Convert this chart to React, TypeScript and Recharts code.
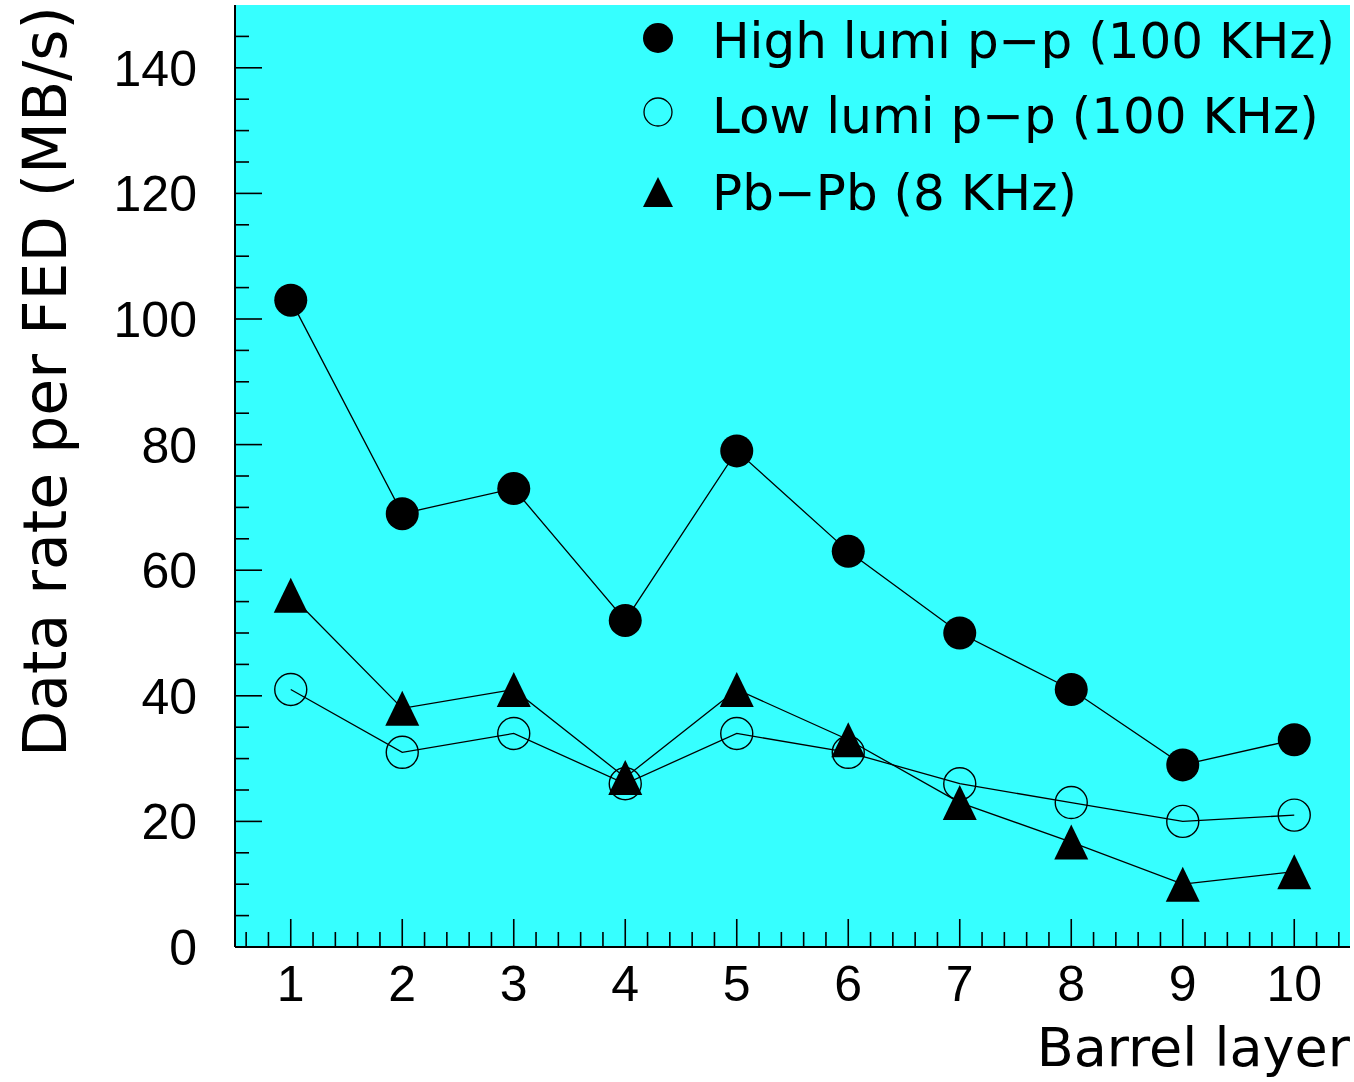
import { CartesianGrid, ComposedChart, Legend, Line, XAxis, YAxis } from "recharts";

const layers = [1, 2, 3, 4, 5, 6, 7, 8, 9, 10];
const highLumi = [103, 69, 73, 52, 79, 63, 50, 41, 29, 33];
const lowLumi = [41, 31, 34, 26, 34, 31, 26, 23, 20, 21];
const pbPb = [56, 38, 41, 27, 41, 33, 23, 16.7, 10, 12];
const seriesNames = [
  "High lumi p\u2212p (100 KHz)",
  "Low lumi p\u2212p (100 KHz)",
  "Pb\u2212Pb (8 KHz)",
];

const data = layers.map((layer, i) => ({
  layer,
  high: highLumi[i],
  low: lowLumi[i],
  pb: pbPb[i],
}));

// minor ticks every 0.2 on x, every 5 on y
const xTicks = Array.from({ length: 50 }, (_, i) => Math.round((0.6 + i * 0.2) * 10) / 10);
const yTicks = Array.from({ length: 30 }, (_, i) => i * 5);

const TEXT = "'DejaVu Sans', sans-serif";
const DIGITS = "'Liberation Sans', Arial, sans-serif";

const XTick = (props: any) => {
  const { x, y, payload } = props;
  const v = payload.value;
  const major = Math.abs(v - Math.round(v)) < 1e-6;
  return (
    <g>
      <line x1={x} x2={x} y1={y} y2={y - (major ? 28 : 15)} stroke="#000" strokeWidth={1.6} />
      {major && (
        <text x={x} y={y + 54} textAnchor="middle" fontSize={50} fontFamily={DIGITS} fill="#000">
          {Math.round(v)}
        </text>
      )}
    </g>
  );
};

const YTick = (props: any) => {
  const { x, y, payload } = props;
  const v = payload.value;
  const major = v % 20 === 0;
  return (
    <g>
      <line x1={x} x2={x + (major ? 27 : 14)} y1={y} y2={y} stroke="#000" strokeWidth={1.6} />
      {major && (
        <text x={x - 38} y={y + 18} textAnchor="end" fontSize={50} fontFamily={DIGITS} fill="#000">
          {v}
        </text>
      )}
    </g>
  );
};

const FilledDot = (p: any) => <circle cx={p.cx} cy={p.cy} r={16.5} fill="#000" />;
const OpenDot = (p: any) => (
  <circle cx={p.cx} cy={p.cy} r={16} fill="none" stroke="#000" strokeWidth={1.4} />
);
const TriDot = (p: any) => (
  <polygon
    points={`${p.cx},${p.cy - 17.5} ${p.cx + 17},${p.cy + 17.5} ${p.cx - 17},${p.cy + 17.5}`}
    fill="#000"
  />
);

const LegendBox = () => (
  <svg width={734} height={230} style={{ display: "block" }}>
    <circle cx={38} cy={38} r={15} fill="#000" />
    <circle cx={38} cy={112} r={14} fill="none" stroke="#000" strokeWidth={1.3} />
    <polygon points="38,177 53,207 23,207" fill="#000" />
    {seriesNames.map((name, i) => (
      <text key={name} x={92} y={[58, 133, 210][i]} fontSize={50} fontFamily={TEXT} fill="#000">
        {name}
      </text>
    ))}
  </svg>
);

export default function App() {
  return (
    <div style={{ position: "absolute", left: 0, top: 0, width: 1354, height: 1082, background: "#fff" }}>
      <ComposedChart width={1354} height={1082} data={data} margin={{ top: 5, right: 4, left: 0, bottom: 0 }}>
        <CartesianGrid horizontal={false} vertical={false} fill="#36ffff" fillOpacity={1} />
        <XAxis
          dataKey="layer"
          type="number"
          domain={[0.5, 10.5]}
          allowDataOverflow
          ticks={xTicks}
          interval={0}
          height={135}
          tickSize={0}
          tickMargin={0}
          tickLine={false}
          tick={<XTick />}
          axisLine={{ stroke: "#000", strokeWidth: 2 }}
          label={{
            content: () => (
              <text x={1350} y={1066} textAnchor="end" fontSize={54} fontFamily={TEXT} fill="#000">
                Barrel layer
              </text>
            ),
          }}
        />
        <XAxis
          xAxisId="top"
          orientation="top"
          type="number"
          domain={[0.5, 10.5]}
          height={0}
          tick={false}
          tickLine={false}
          axisLine={{ stroke: "#000", strokeWidth: 2 }}
        />
        <YAxis
          type="number"
          domain={[0, 150]}
          allowDataOverflow
          ticks={yTicks}
          interval={0}
          width={235}
          tickSize={0}
          tickMargin={0}
          tickLine={false}
          tick={<YTick />}
          axisLine={{ stroke: "#000", strokeWidth: 2 }}
          label={{
            content: () => (
              <text transform="rotate(-90)" x={-757} y={66} textAnchor="start" fontSize={60} fontFamily={TEXT} fill="#000">
                Data rate per FED (MB/s)
              </text>
            ),
          }}
        />
        <YAxis
          yAxisId="right"
          orientation="right"
          domain={[0, 150]}
          width={0}
          tick={false}
          tickLine={false}
          axisLine={{ stroke: "#000", strokeWidth: 2 }}
        />
        <Legend
          layout="vertical"
          align="center"
          verticalAlign="middle"
          content={<LegendBox />}
          wrapperStyle={{ position: "absolute", left: 620, top: 0, width: 734, height: 230 }}
        />
        <Line dataKey="high" name={seriesNames[0]} stroke="#000" strokeWidth={1.3} dot={<FilledDot />} activeDot={false} isAnimationActive={false} />
        <Line dataKey="low" name={seriesNames[1]} stroke="#000" strokeWidth={1.3} dot={<OpenDot />} activeDot={false} isAnimationActive={false} />
        <Line dataKey="pb" name={seriesNames[2]} stroke="#000" strokeWidth={1.3} dot={<TriDot />} activeDot={false} isAnimationActive={false} />
      </ComposedChart>
    </div>
  );
}
